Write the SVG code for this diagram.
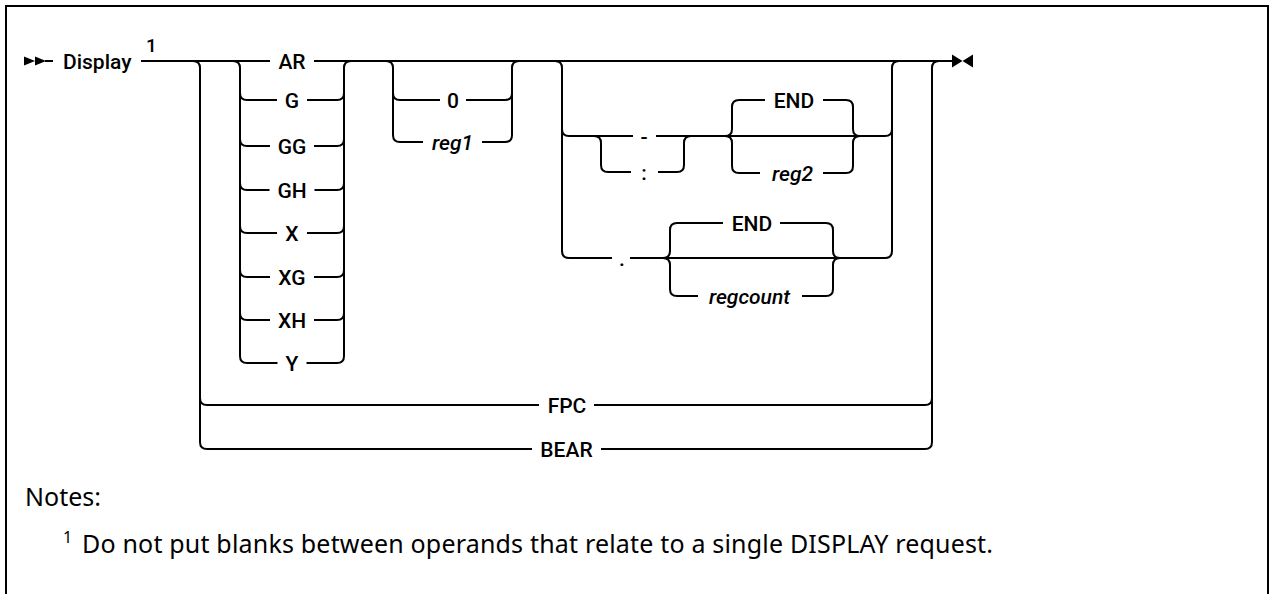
<svg xmlns="http://www.w3.org/2000/svg" width="1273" height="594" viewBox="0 0 1273 594">
<style>
.rail{fill:none;stroke:#000;stroke-width:2;stroke-linejoin:round}
.lbl{font-family:Roboto,"Liberation Sans",sans-serif;font-size:21px;font-weight:500;fill:#000;text-anchor:middle}
.var{font-style:italic}
.note{font-family:"Noto Sans","Open Sans","Liberation Sans",sans-serif;font-size:25px;fill:#000}
.mark{fill:#000;stroke:none}
</style>
<rect x="6" y="6" width="1262" height="640" fill="#fff" stroke="#000" stroke-width="2"/>

<g id="connectors">
  <!-- start / end markers -->
  <polygon class="mark" points="24,56.5 24,65.5 35,61"/>
  <polygon class="mark" points="35,56.5 35,65.5 46,61"/>
  <path class="rail" d="M45,61 H53"/>
  <polygon class="mark" points="952,54.5 952,67.5 962.5,61"/>
  <polygon class="mark" points="973,54.5 973,67.5 962.5,61"/>

  <!-- main line -->
  <path class="rail" d="M141,61 H270 M314,61 H953"/>

  <!-- FPC / BEAR branch -->
  <path class="rail" d="M193,61 Q200,61 200,68 V442 Q200,449 207,449 H532"/>
  <path class="rail" d="M601,449 H925 Q932,449 932,442 V68 Q932,61 939,61"/>
  <path class="rail" d="M200,398 Q200,405 207,405 H539"/>
  <path class="rail" d="M594,405 H925 Q932,405 932,398"/>

  <!-- AR group -->
  <path class="rail" d="M233,61 Q240,61 240,68 V356 Q240,363 247,363 H277.5"/>
  <path class="rail" d="M306.5,363 H337 Q344,363 344,356 V68 Q344,61 351,61"/>
  <path class="rail" d="M240,93 Q240,100 247,100 H277 M307,100 H337 Q344,100 344,93"/>
  <path class="rail" d="M240,139 Q240,146 247,146 H270 M314,146 H337 Q344,146 344,139"/>
  <path class="rail" d="M240,183 Q240,190 247,190 H269.5 M314.5,190 H337 Q344,190 344,183"/>
  <path class="rail" d="M240,226 Q240,233 247,233 H277 M307,233 H337 Q344,233 344,226"/>
  <path class="rail" d="M240,270 Q240,277 247,277 H270 M314,277 H337 Q344,277 344,270"/>
  <path class="rail" d="M240,313 Q240,320 247,320 H270 M314,320 H337 Q344,320 344,313"/>

  <!-- 0 / reg1 group -->
  <path class="rail" d="M386,61 Q393,61 393,68 V135 Q393,142 400,142 H423"/>
  <path class="rail" d="M482,142 H505 Q512,142 512,135 V68 Q512,61 519,61"/>
  <path class="rail" d="M393,93 Q393,100 400,100 H440 M466,100 H505 Q512,100 512,93"/>

  <!-- register range group -->
  <path class="rail" d="M555,61 Q562,61 562,68 V251 Q562,258 569,258 H612"/>
  <path class="rail" d="M630,258 H885 Q892,258 892,251 V68 Q892,61 899,61"/>
  <path class="rail" d="M562,129 Q562,136 569,136 H633"/>
  <path class="rail" d="M656,136 H885 Q892,136 892,129"/>
  <!-- - / : choice -->
  <path class="rail" d="M594,136 Q601,136 601,143 V165 Q601,172 608,172 H631"/>
  <path class="rail" d="M658,172 H677 Q684,172 684,165 V143 Q684,136 691,136"/>
  <!-- END / reg2 brace -->
  <path class="rail" d="M725,136 Q732,136 732,129 V107 Q732,100 739,100 H765"/>
  <path class="rail" d="M725,136 Q732,136 732,143 V166 Q732,173 739,173 H760"/>
  <path class="rail" d="M823,100 H846 Q853,100 853,107 V129 Q853,136 860,136"/>
  <path class="rail" d="M823,173 H846 Q853,173 853,166 V143 Q853,136 860,136"/>
  <!-- END / regcount brace -->
  <path class="rail" d="M663,258 Q670,258 670,251 V230 Q670,223 677,223 H723"/>
  <path class="rail" d="M663,258 Q670,258 670,265 V289 Q670,296 677,296 H698"/>
  <path class="rail" d="M780,223 H826 Q833,223 833,230 V251 Q833,258 840,258"/>
  <path class="rail" d="M802,296 H826 Q833,296 833,289 V265 Q833,258 840,258"/>
</g>

<g id="n-display"><text class="lbl" x="63" y="68.5" style="text-anchor:start">Display</text><text class="lbl" x="151.5" y="52" style="font-size:19px">1</text></g>
<g id="n-AR"><text class="lbl" x="292" y="68.5">AR</text></g>
<g id="n-G"><text class="lbl" x="292" y="107.5">G</text></g>
<g id="n-GG"><text class="lbl" x="292" y="153.5">GG</text></g>
<g id="n-GH"><text class="lbl" x="292" y="197.5">GH</text></g>
<g id="n-X"><text class="lbl" x="292" y="240.5">X</text></g>
<g id="n-XG"><text class="lbl" x="292" y="284.5">XG</text></g>
<g id="n-XH"><text class="lbl" x="292" y="327.5">XH</text></g>
<g id="n-Y"><text class="lbl" x="292" y="370.5">Y</text></g>
<g id="n-0"><text class="lbl" x="453" y="107.5">0</text></g>
<g id="n-reg1"><text class="lbl var" x="452.5" y="149.5">reg1</text></g>
<g id="n-dash"><text class="lbl" x="644" y="143.5">-</text></g>
<g id="n-colon"><text class="lbl" x="644" y="179.5">:</text></g>
<g id="n-END1"><text class="lbl" x="794" y="107.5">END</text></g>
<g id="n-reg2"><text class="lbl var" x="792.5" y="180.5">reg2</text></g>
<g id="n-dot"><text class="lbl" x="622" y="265.5">.</text></g>
<g id="n-END2"><text class="lbl" x="752" y="230.5">END</text></g>
<g id="n-regcount"><text class="lbl var" x="749.5" y="303.5">regcount</text></g>
<g id="n-FPC"><text class="lbl" x="567" y="412.5">FPC</text></g>
<g id="n-BEAR"><text class="lbl" x="566.5" y="456.5">BEAR</text></g>

<g id="notes">
  <text class="note" x="25" y="506">Notes:</text>
  <text class="note" x="67.5" y="543" style="font-size:16px;text-anchor:middle">1</text>
  <text class="note" x="82" y="553" textLength="911" lengthAdjust="spacing">Do not put blanks between operands that relate to a single DISPLAY request.</text>
</g>
</svg>
